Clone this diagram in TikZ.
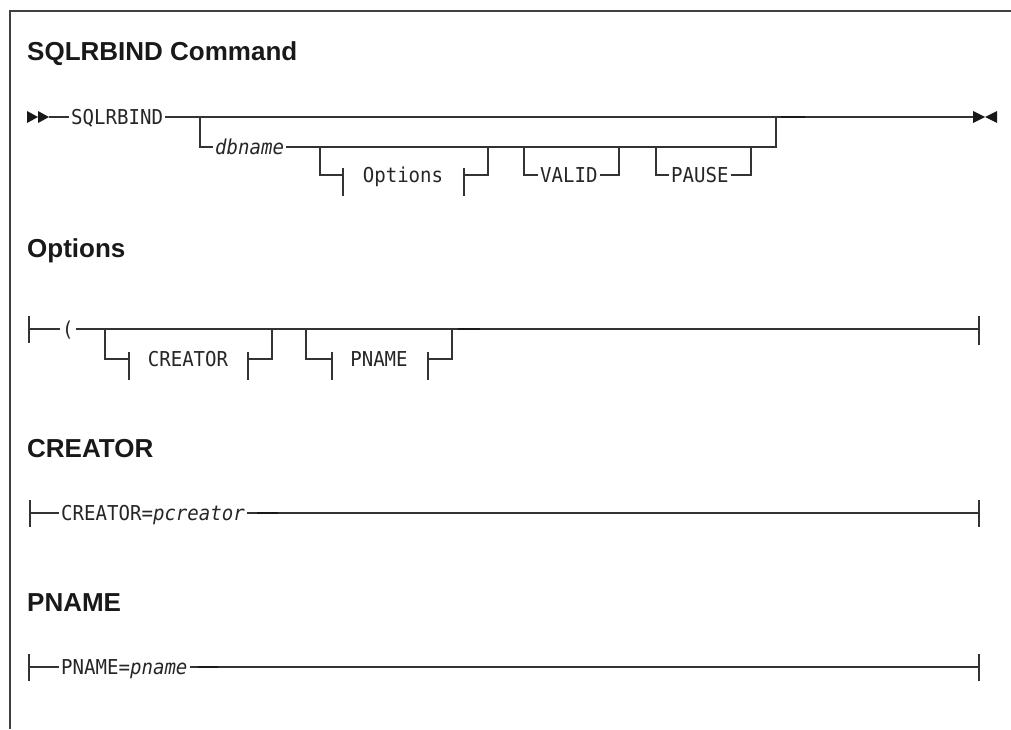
\documentclass[tikz,border=0pt]{standalone}
\usepackage{fontspec}
\setmainfont{Liberation Sans}
\newfontfamily\railfont[FakeStretch=0.93]{DejaVu Sans Mono}
\begin{document}
\begin{tikzpicture}[x=1pt,y=-1pt,
  rail/.style={line width=1.1pt, draw=black!80},
  dark/.style={line width=1.8pt, draw=black!90},
  frame/.style={line width=1.3pt, draw=black!75},
  kw/.style={font=\railfont\fontsize{20.5}{21}\selectfont, inner xsep=2pt, inner ysep=0pt, anchor=base west, text=black!85},
  kwc/.style={kw, anchor=base},
  head/.style={font=\bfseries\fontsize{26}{28}\selectfont, inner sep=0pt, anchor=base west, text=black!90},
  tip/.style={fill=black!90}]
\useasboundingbox (0,0) rectangle (1011,729);
% frame
\coordinate (fbl) at (10,729); \coordinate (ftl) at (10,11); \coordinate (ftr) at (1011,11);
\draw[frame] (fbl) -- (ftl) -- (ftr);

% ===== SQLRBIND Command =====
\node[head] (title) at (27,60) {SQLRBIND Command};
\fill[tip] (27,111) -- (38,117) -- (27,123) -- cycle;
\fill[tip] (38,111) -- (49,117) -- (38,123) -- cycle;
\coordinate (m0) at (49,117);
\node[kw] (sqlr) at (69,124) {SQLRBIND};
\coordinate (j1) at (200,117);
\coordinate (j2) at (776,117);
\coordinate (mend) at (973,117);
\draw[rail] (m0) -- (sqlr.west |- m0);
\draw[rail] (sqlr.east |- m0) -- (mend);
\coordinate (md0) at (781,117); \coordinate (md1) at (805,117);
\draw[dark] (md0) -- (md1);
\fill[tip] (973,111) -- (985,117) -- (973,123) -- cycle;
\fill[tip] (997,111) -- (985,117) -- (997,123) -- cycle;
% dbname row
\coordinate (d0) at (200,147);
\coordinate (d1) at (776,147);
\node[kw, font=\railfont\itshape\fontsize{20.5}{21}\selectfont] (db) at (213,154) {dbname};
\draw[rail] (j1) -- (d0) -- (db.west |- d0);
\draw[rail] (db.east |- d0) -- (d1) -- (j2);
% Options fragment
\coordinate (oa) at (320,147); \coordinate (ob) at (320,175);
\coordinate (ot1) at (343,175); \coordinate (ot1a) at (343,168); \coordinate (ot1b) at (343,196);
\coordinate (ot2) at (464,175); \coordinate (ot2a) at (464,168); \coordinate (ot2b) at (464,196);
\coordinate (oc) at (488,175); \coordinate (od) at (488,147);
\node[kwc] (opt) at (403,182) {Options};
\draw[rail] (oa) -- (ob) -- (ot1);
\draw[rail] (ot1a) -- (ot1b);
\draw[rail] (ot2a) -- (ot2b);
\draw[rail] (ot2) -- (oc) -- (od);
% VALID
\coordinate (va) at (524,147); \coordinate (vb) at (524,175);
\coordinate (vc) at (619,175); \coordinate (vd) at (619,147);
\node[kw] (valid) at (538,182) {VALID};
\draw[rail] (va) -- (vb) -- (valid.west |- vb);
\draw[rail] (valid.east |- vc) -- (vc) -- (vd);
% PAUSE
\coordinate (pa) at (656,147); \coordinate (pb) at (656,175);
\coordinate (pc) at (751,175); \coordinate (pd) at (751,147);
\node[kw] (pause) at (669,182) {PAUSE};
\draw[rail] (pa) -- (pb) -- (pause.west |- pb);
\draw[rail] (pause.east |- pc) -- (pc) -- (pd);

% ===== Options =====
\node[head] (hopt) at (27,257) {Options};
\coordinate (r0) at (29,329); \coordinate (r0a) at (29,316); \coordinate (r0b) at (29,343);
\draw[rail] (r0a) -- (r0b);
\node[kw] (paren) at (60,336) {(};
\coordinate (rend) at (979,329); \coordinate (renda) at (979,316); \coordinate (rendb) at (979,345);
\draw[rail] (r0) -- (paren.west |- r0);
\draw[rail] (paren.east |- r0) -- (rend);
\draw[rail] (renda) -- (rendb);
\coordinate (rd0) at (458,329); \coordinate (rd1) at (480,329);
\draw[dark] (rd0) -- (rd1);
% CREATOR fragment
\coordinate (ca) at (105,329); \coordinate (cb) at (105,359);
\coordinate (ct1) at (129,359); \coordinate (ct1a) at (129,352); \coordinate (ct1b) at (129,380);
\coordinate (ct2) at (248,359); \coordinate (ct2a) at (248,352); \coordinate (ct2b) at (248,380);
\coordinate (cc) at (272,359); \coordinate (cd) at (272,329);
\node[kwc] (cre) at (188,366) {CREATOR};
\draw[rail] (ca) -- (cb) -- (ct1);
\draw[rail] (ct1a) -- (ct1b);
\draw[rail] (ct2a) -- (ct2b);
\draw[rail] (ct2) -- (cc) -- (cd);
% PNAME fragment
\coordinate (na) at (306,329); \coordinate (nb) at (306,359);
\coordinate (nt1) at (332,359); \coordinate (nt1a) at (332,352); \coordinate (nt1b) at (332,380);
\coordinate (nt2) at (428,359); \coordinate (nt2a) at (428,352); \coordinate (nt2b) at (428,380);
\coordinate (nc) at (452,359); \coordinate (nd) at (452,329);
\node[kwc] (pnm) at (379,366) {PNAME};
\draw[rail] (na) -- (nb) -- (nt1);
\draw[rail] (nt1a) -- (nt1b);
\draw[rail] (nt2a) -- (nt2b);
\draw[rail] (nt2) -- (nc) -- (nd);

% ===== CREATOR =====
\node[head] (hcre) at (27,457) {CREATOR};
\coordinate (s0) at (30,513); \coordinate (s0a) at (30,500); \coordinate (s0b) at (30,527);
\coordinate (send) at (979,513); \coordinate (senda) at (979,500); \coordinate (sendb) at (979,527);
\node[kw] (crev) at (59,520) {CREATOR=\itshape pcreator};
\draw[rail] (s0a) -- (s0b);
\draw[rail] (s0) -- (crev.west |- s0);
\draw[rail] (crev.east |- s0) -- (send);
\draw[rail] (senda) -- (sendb);
\coordinate (sd0) at (257,513); \coordinate (sd1) at (278,513);
\draw[dark] (sd0) -- (sd1);

% ===== PNAME =====
\node[head] (hpn) at (27,611) {PNAME};
\coordinate (t0) at (29,667); \coordinate (t0a) at (29,654); \coordinate (t0b) at (29,681);
\coordinate (tend) at (979,667); \coordinate (tenda) at (979,654); \coordinate (tendb) at (979,681);
\node[kw] (pnv) at (59,674) {PNAME=\itshape pname};
\draw[rail] (t0a) -- (t0b);
\draw[rail] (t0) -- (pnv.west |- t0);
\draw[rail] (pnv.east |- t0) -- (tend);
\draw[rail] (tenda) -- (tendb);
\coordinate (td0) at (198,667); \coordinate (td1) at (218,667);
\draw[dark] (td0) -- (td1);
\end{tikzpicture}
\end{document}
